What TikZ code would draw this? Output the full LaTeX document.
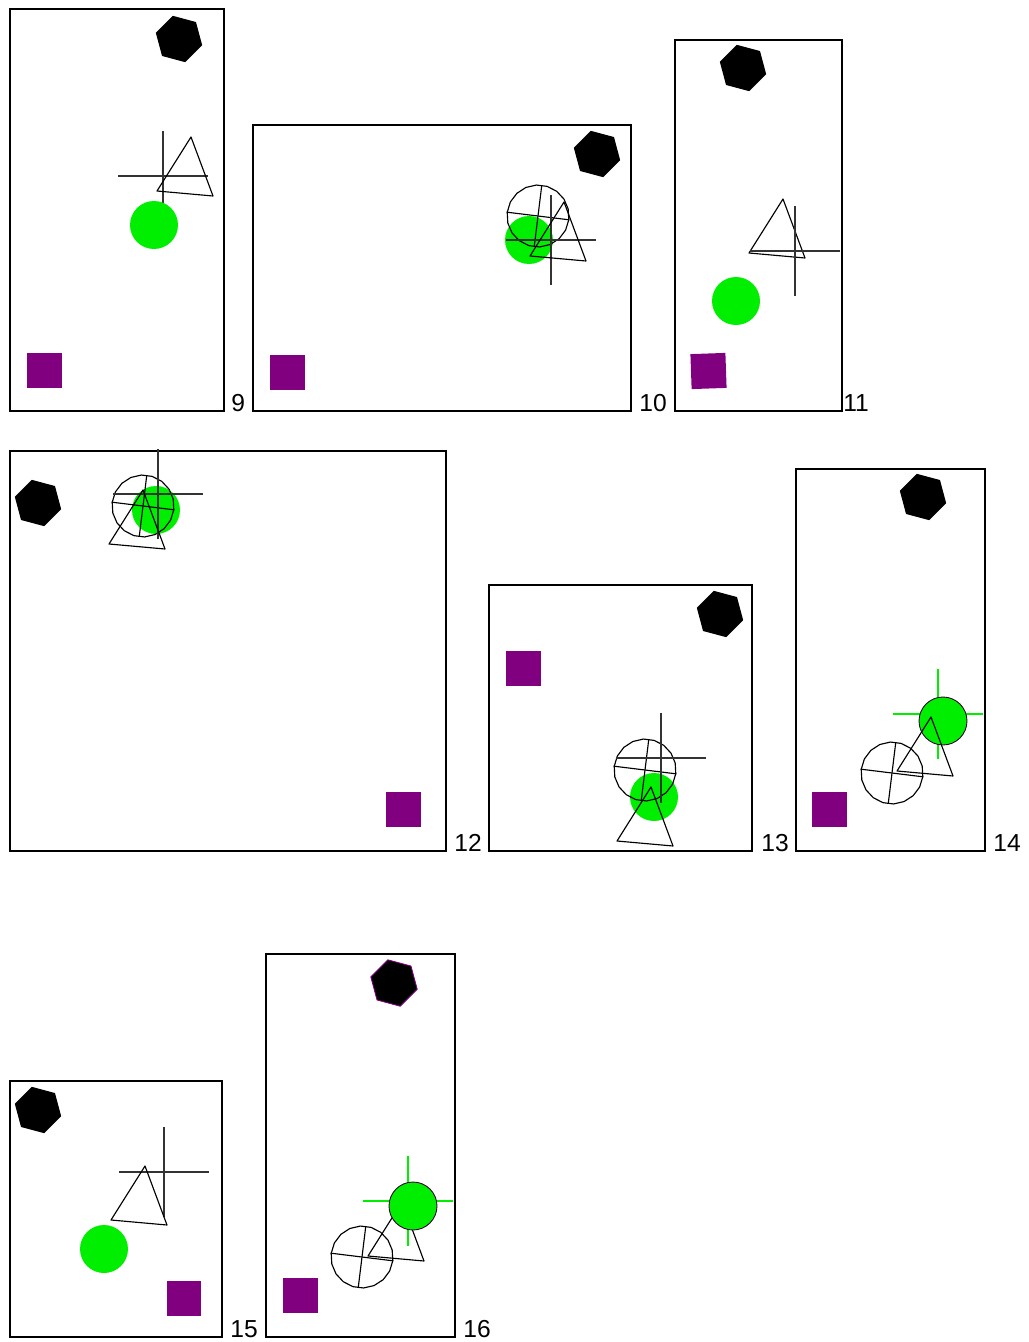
\documentclass[tikz,border=0pt]{standalone}
\usepackage{fontspec}
\setmainfont{Liberation Sans}
\usetikzlibrary{shapes.geometric}
\definecolor{dotgreen}{RGB}{0,238,0}
\definecolor{sqpurple}{RGB}{128,0,128}
\tikzset{
  panelframe/.style={draw, line width=1.1pt},
  panellabel/.style={anchor=base west, inner sep=0pt, font=\fontsize{14}{16}\selectfont},
  hexa/.style={regular polygon, regular polygon sides=6, fill=black, minimum size=0.96cm, inner sep=0pt, rotate=-15},
  sqbox/.style={fill=sqpurple, minimum size=0.7cm, inner sep=0pt},
  greendot/.style={circle, fill=dotgreen, minimum size=0.96cm, inner sep=0pt},
  ring/.style={regular polygon, regular polygon sides=18, draw, line width=0.65pt, minimum size=1.24cm, inner sep=0pt, rotate=-7},
  ringline/.style={line width=0.65pt},
  crossline/.style={draw=black!80, line width=0.75pt},
  triline/.style={draw, line width=0.65pt, line join=round},
  tri/.pic={\draw[triline] (0,0) -- (-34,54) -- (22,59) -- cycle;},
  cross/.pic={\draw[crossline] (-45,0) -- (45,0) (0,-45) -- (0,45);},
}

\begin{document}
\begin{tikzpicture}[x=0.02cm, y=-0.02cm]
  \useasboundingbox (0,0) rectangle (1028,1342);

  % panel 9
  \draw[panelframe] (10,9) rectangle (224,411);
  \node[panellabel] (lab9) at (231,411) {9};
  \node[hexa] (hex9) at (179,39) {};
  \node[sqbox] (sq9) at (44.5,370) {};
  \pic at (163,176) {cross};
  \node[greendot] (dot9) at (154,225) {};
  \pic at (191,137) {tri};

  % panel 10
  \draw[panelframe] (253,125) rectangle (631,411);
  \node[panellabel] (lab10) at (639,411) {10};
  \node[hexa] (hex10) at (597,154) {};
  \node[sqbox] (sq10) at (287,372) {};
  \node[greendot] (dot10) at (529,240) {};
  \node[ring] (ring10) at (538,216) {};
  \draw[ringline] (ring10.north) -- (ring10.south) (ring10.west) -- (ring10.east);
  \pic at (551,240) {cross};
  \pic at (564,202) {tri};

  % panel 11
  \draw[panelframe] (675,40) rectangle (842,411);
  \node[panellabel] (lab11) at (843,411) {11};
  \node[hexa] (hex11) at (743,68) {};
  \node[sqbox, rotate=2] (sq11) at (708.5,371) {};
  \pic at (783,199) {tri};
  \pic at (795,251) {cross};
  \node[greendot] (dot11) at (736,301) {};

  % panel 12
  \draw[panelframe] (10,451) rectangle (446,851);
  \node[panellabel] (lab12) at (454,851) {12};
  \node[hexa] (hex12) at (38,503) {};
  \node[sqbox] (sq12) at (403,809) {};
  \node[greendot] (dot12) at (156,510) {};
  \node[ring] (ring12) at (143,506) {};
  \draw[ringline] (ring12.north) -- (ring12.south) (ring12.west) -- (ring12.east);
  \pic at (158,494) {cross};
  \pic at (143,490) {tri};

  % panel 13
  \draw[panelframe] (489,585) rectangle (752,851);
  \node[panellabel] (lab13) at (761,851) {13};
  \node[hexa] (hex13) at (720,614) {};
  \node[sqbox] (sq13) at (523,668) {};
  \node[greendot] (dot13) at (654,797) {};
  \node[ring] (ring13) at (645,770) {};
  \draw[ringline] (ring13.north) -- (ring13.south) (ring13.west) -- (ring13.east);
  \pic at (661,758) {cross};
  \pic at (651,787) {tri};

  % panel 14
  \draw[panelframe] (796,469) rectangle (985,851);
  \node[panellabel] (lab14) at (993,851) {14};
  \node[hexa] (hex14) at (923,497) {};
  \node[sqbox] (sq14) at (829.5,809) {};
  \node[ring] (ring14) at (892,773) {};
  \draw[ringline] (ring14.north) -- (ring14.south) (ring14.west) -- (ring14.east);
  \pic[crossline/.style={draw=dotgreen, line width=0.75pt}] at (938,714) {cross};
  \node[greendot, draw=black!60!sqpurple, line width=0.5pt] (dot14) at (943,721) {};
  \pic at (931,717) {tri};

  % panel 15
  \draw[panelframe] (10,1081) rectangle (222,1337);
  \node[panellabel] (lab15) at (230,1337) {15};
  \node[hexa] (hex15) at (38,1110) {};
  \node[sqbox] (sq15) at (184,1298) {};
  \pic at (164,1172) {cross};
  \pic at (145,1166) {tri};
  \node[greendot] (dot15) at (104,1249) {};

  % panel 16
  \draw[panelframe] (266,954) rectangle (455,1337);
  \node[panellabel] (lab16) at (463,1337) {16};
  \node[hexa, draw=sqpurple, line width=0.5pt] (hex16) at (394,983) {};
  \node[sqbox] (sq16) at (300,1295) {};
  \node[ring] (ring16) at (362,1257) {};
  \draw[ringline] (ring16.north) -- (ring16.south) (ring16.west) -- (ring16.east);
  \pic at (402,1202) {tri};
  \pic[crossline/.style={draw=dotgreen, line width=0.75pt}] at (408,1201) {cross};
  \node[greendot, draw=black!60!sqpurple, line width=0.5pt] (dot16) at (413,1206) {};
\end{tikzpicture}
\end{document}
